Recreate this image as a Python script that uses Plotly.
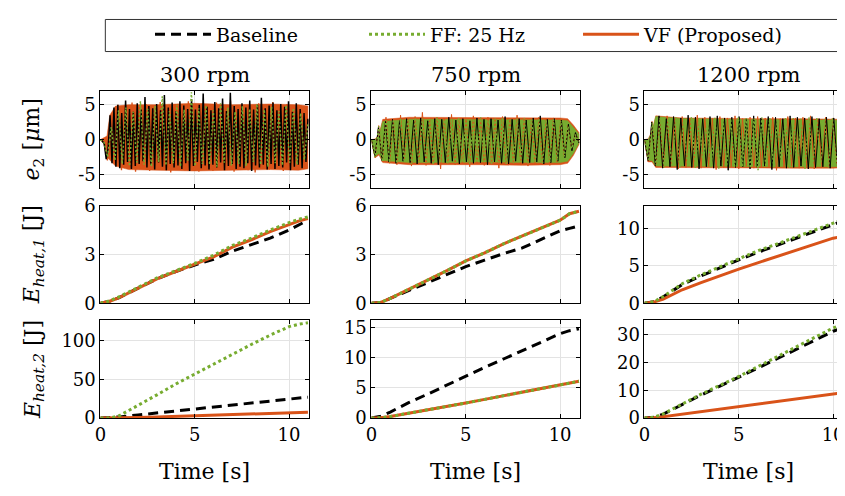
import numpy as np
import plotly.graph_objects as go

# page is shown with the browser's default 8px body margin -> figure sized to fit
OFF = 8
W, H = 845 - OFF, 496 - OFF
FONT = "DejaVu Serif"
BLACK = "#000000"
GREEN = "#77AC30"
ORANGE = "#D95319"

def xp(px):
    return (px - OFF) / W

def yp(py):
    return 1 - (py - OFF) / H

rpm_labels = ["300 rpm", "750 rpm", "1200 rpm"]
series_names = ["Baseline", "FF: 25 Hz", "VF (Proposed)"]

# ---- row 1: e2 [um] (values read peak by peak) ----
e2_base_300 = [0, -0.2, -0.6, -2.8, -1.2, 3.5, -3.4, 4.6, -3.9, 5.0, -4.1, 3.8, -3.6, 5.6, -3.2, 4.4, -4.2, 4.0, -3.8, 5.2, -3.5, 4.3, -3.1, 6.1, -4.0, 4.8, -3.6, 4.5, -4.3, 5.1, -3.3, 4.2, -3.9, 6.4, -4.4, 4.6, -3.5, 5.3, -4.0, 4.1, -3.7, 5.5, -4.2, 4.9, -3.4, 4.4, -4.5, 5.8, -3.8, 4.3, -3.2, 5.0, -4.1, 6.6, -3.7, 4.7, -4.3, 4.2, -3.6, 5.4, -4.0, 4.5, -3.3, 5.9, -4.4, 4.1, -3.8, 6.7, -3.5, 4.8, -4.2, 4.4, -3.9, 5.2, -4.1, 4.6, -3.4, 5.6, -4.5, 4.3, -3.7, 5.0, -4.0, 6.0, -3.6, 4.5, -4.3, 4.9, -3.5, 5.3, -4.2, 4.2, -3.8, 5.1, -4.0, 4.7, -3.3, 5.5, -4.4, 4.0, -3.9, 5.2, -3.6, 4.4, -4.1, 3.8, -3.2, 3.0]
e2_vf_300 = [0, -0.5, -3.0, 2.2, -3.4, 5.0, -4.4, 4.6, -3.9, 5.3, -4.6, 4.2, -3.7, 5.1, -4.5, 4.8, -3.6, 5.4, -4.2, 4.4, -4.7, 5.0, -3.8, 4.9, -4.4, 5.5, -3.9, 4.3, -4.6, 5.2, -4.0, 4.7, -4.5, 5.3, -3.8, 4.6, -4.3, 5.6, -4.6, 4.1, -3.9, 5.0, -4.4, 4.8, -4.7, 5.2, -3.9, 4.5, -4.3, 5.4, -4.0, 4.7, -4.5, 5.1, -3.7, 4.4, -4.2, 4.9, -3.6, 2.8]
e2_ff_300 = [0, -0.4, -2.5, 1.8, -3.0, 4.2, -3.5, 4.6, -3.8, 4.0, -3.3, 5.5, -3.6, 4.4, -3.9, 4.8, -3.2, 6.2, -3.7, 4.1, -3.4, 5.0, -3.9, 4.3, -3.1, 6.8, -3.8, 4.5, -3.5, 4.9, -3.6, 4.2, -3.9, 5.2, -3.3, 4.6, -3.7, 4.0, -3.5, 4.8, -3.8, 4.4, -3.2, 5.1, -3.6, 4.3, -3.9, 4.7, -3.4, 4.1, -3.7, 4.9, -3.3, 4.5, -3.6, 3.8, -2.9, 2.2]

e2_base_750 = [0, -2.4, 1.8, -3.0, 2.6, -3.2, 2.9, -3.4, 2.7, -3.1, 3.0, -3.3, 2.8, -3.5, 3.1, -3.2, 2.7, -3.4, 3.0, -3.6, 2.9, -3.3, 3.2, -3.1, 2.8, -3.5, 3.0, -3.2, 2.7, -3.4, 3.1, -3.3, 2.9, -3.6, 3.0, -3.2, 2.8, -3.4, 3.3, -3.5, 2.9, -3.1, 3.0, -3.4, 2.8, -3.3, 3.1, -3.2, 3.4, -3.5, 2.9, -3.3, 3.0, -3.1, 2.8, -2.6, 2.2, -1.6, 1.0, -0.5]
e2_vf_750 = [0, -2.6, 2.0, -3.2, 3.2, -3.4, 2.8, -3.6, 3.5, -3.0, 2.9, -3.8, 3.3, -3.4, 3.9, -3.7, 2.8, -3.5, 3.2, -4.2, 3.0, -3.4, 3.6, -3.6, 2.9, -3.3, 3.1, -3.9, 3.4, -3.5, 2.8, -3.7, 3.2, -3.4, 3.0, -4.1, 3.3, -3.6, 2.9, -3.5, 3.5, -3.3, 3.1, -3.8, 2.9, -3.6, 3.2, -3.4, 3.0, -3.7, 3.1, -3.2, 2.8, -2.5, 2.0, -1.4, 0.8, -0.4]
e2_ff_750 = [0, -2.5, 1.9, -3.1, 2.8, -3.3, 2.9, -3.4, 3.0, -3.2, 2.8, -3.5, 3.1, -3.3, 3.0, -3.4, 2.9, -3.6, 3.2, -3.3, 2.8, -3.5, 3.0, -3.4, 3.1, -3.2, 2.9, -3.5, 3.0, -3.3, 3.2, -3.4, 2.8, -3.6, 3.0, -3.3, 3.1, -3.5, 2.9, -3.4, 3.0, -3.2, 3.1, -3.5, 2.9, -3.3, 3.0, -3.4, 2.8, -3.2, 2.9, -3.0, 2.7, -2.4, 1.9, -1.3, 0.7, -0.3]

e2_base_1200 = [0, -3.0, 2.5, -3.8, 3.4, -4.1, 3.0, -3.9, 3.3, -4.3, 3.1, -3.8, 3.5, -4.0, 3.2, -4.2, 3.0, -3.9, 3.3, -4.1, 3.4, -3.8, 3.1, -4.4, 3.2, -4.0, 3.3, -3.9, 3.0, -4.2, 3.4, -4.0, 3.1, -3.8, 3.3, -4.3, 3.2, -3.9, 3.0, -4.1, 3.4, -4.0, 3.2, -3.8, 3.1, -4.2, 3.3, -4.0, 3.0, -3.9, 3.2, -4.1, 3.1, -3.7, 2.8, -3.2, 2.4, -1.8]
e2_vf_1200 = [0, -3.2, 2.6, -3.9, 3.2, -4.0, 3.4, -3.8, 3.0, -4.2, 3.3, -4.0, 3.1, -3.9, 3.5, -4.1, 3.2, -3.8, 3.0, -4.3, 3.3, -4.0, 3.1, -3.9, 3.4, -4.2, 3.0, -3.8, 3.2, -4.1, 3.3, -4.0, 3.1, -3.9, 3.2, -4.4, 3.0, -4.0, 3.3, -3.8, 3.1, -4.1, 3.2, -3.9, 3.4, -4.2, 3.0, -4.0, 3.2, -3.9, 3.1, -3.6, 2.7, -3.0, 2.2, -1.6]
e2_ff_1200 = [0, -2.9, 2.4, -3.7, 3.1, -4.0, 3.0, -3.9, 3.2, -4.1, 3.0, -3.8, 3.3, -4.2, 3.1, -3.9, 3.0, -4.0, 3.2, -4.3, 3.1, -3.8, 3.0, -4.0, 3.2, -3.9, 3.1, -4.1, 3.0, -4.4, 3.2, -3.9, 3.1, -4.0, 3.0, -3.8, 3.2, -4.1, 3.1, -3.9, 3.0, -4.2, 3.2, -4.0, 3.1, -3.8, 3.0, -4.0, 3.1, -3.6, 2.8, -3.1, 2.3, -1.7]

# envelopes of the dense e2 bands (upper / lower)
t_env_300 = [0, 0.2, 0.35, 0.5, 0.8, 1.5, 3, 5, 7, 9, 10.5, 11]
env_vf_up_300 = [0, 0.3, 0.5, 3.5, 4.8, 5.0, 5.0, 5.2, 5.0, 5.1, 5.0, 4.8]
env_vf_lo_300 = [0, -0.5, -2.5, -3.0, -3.8, -4.3, -4.4, -4.5, -4.4, -4.3, -4.4, -4.2]

t_env_750 = [0, 0.2, 0.4, 0.6, 2, 4, 6, 8, 10, 10.4, 10.7, 11]
env_ff_up_750 = [0, 0, 0.5, 2.6, 2.9, 2.9, 2.8, 2.8, 2.8, 2.7, 1.8, 0.8]
env_ff_lo_750 = [0, -2.4, -2.0, -3.0, -3.3, -3.3, -3.2, -3.3, -3.3, -3.1, -2.0, -0.5]
env_vf_up_750 = [0, 0.1, 0.7, 2.9, 3.2, 3.2, 3.1, 3.1, 3.1, 3.0, 2.1, 1.0]
env_vf_lo_750 = [0, -2.6, -2.2, -3.3, -3.6, -3.6, -3.6, -3.7, -3.6, -3.4, -2.3, -0.7]

t_env_1200 = [0, 0.2, 0.4, 0.6, 2, 4, 6, 8, 10, 11]
env_ff_up_1200 = [0, 0, 1.0, 3.3, 3.0, 2.9, 2.9, 2.8, 2.8, 2.7]
env_ff_lo_1200 = [0, -3.0, -3.0, -3.8, -3.9, -3.9, -3.9, -3.9, -3.9, -3.8]
env_vf_up_1200 = [0, 0.1, 1.2, 3.4, 3.1, 3.0, 3.0, 3.0, 2.9, 2.9]
env_vf_lo_1200 = [0, -3.2, -3.2, -4.0, -4.1, -4.1, -4.1, -4.1, -4.1, -4.0]

# ---- rows 2/3: energies [J] at sample times ----
t_E = [0, 0.5, 1, 2, 3, 4, 5, 6, 7, 8, 9, 10, 10.5, 11]

E1_base_300 = [0, 0.12, 0.35, 0.95, 1.5, 1.95, 2.35, 2.7, 3.2, 3.6, 4.0, 4.5, 4.8, 5.1]
E1_ff_300 = [0, 0.15, 0.4, 1.0, 1.55, 2.0, 2.45, 2.95, 3.55, 4.0, 4.5, 4.95, 5.15, 5.3]
E1_vf_300 = [0, 0.12, 0.35, 0.95, 1.5, 1.95, 2.4, 2.85, 3.45, 3.9, 4.4, 4.85, 5.05, 5.2]

E1_base_750 = [0, 0.05, 0.3, 0.8, 1.3, 1.8, 2.25, 2.65, 3.05, 3.4, 3.9, 4.45, 4.6, 4.75]
E1_ff_750 = [0, 0.05, 0.3, 0.85, 1.4, 2.0, 2.6, 3.1, 3.65, 4.15, 4.6, 5.1, 5.5, 5.65]
E1_vf_750 = [0, 0.05, 0.3, 0.85, 1.4, 2.0, 2.6, 3.1, 3.65, 4.15, 4.6, 5.1, 5.5, 5.65]

E1_base_1200 = [0, 0.2, 0.85, 2.5, 3.65, 4.75, 5.8, 6.8, 7.7, 8.6, 9.5, 10.5, 11.0, 11.4]
E1_ff_1200 = [0, 0.2, 0.9, 2.6, 3.8, 4.9, 6.0, 7.0, 7.9, 8.8, 9.7, 10.7, 11.2, 11.6]
E1_vf_1200 = [0, 0.15, 0.55, 1.8, 2.75, 3.7, 4.55, 5.4, 6.25, 7.1, 7.9, 8.7, 8.9, 9.0]

E2_base_300 = [0, 0.3, 1.5, 4, 6.5, 9, 11.5, 14, 16.5, 19, 21.5, 24, 25.5, 27]
E2_ff_300 = [0, 0, 3, 16, 30, 44, 57, 70, 83, 95, 107, 118, 121, 123]
E2_vf_300 = [0, 0, 0.2, 0.8, 1.4, 2.1, 2.9, 3.7, 4.5, 5.3, 6.2, 7.0, 7.3, 7.6]

E2_base_750 = [0, 0.3, 1.0, 2.6, 4.0, 5.5, 7.0, 8.4, 9.8, 11.2, 12.6, 14.0, 14.5, 14.8]
E2_ff_750 = [0, 0.05, 0.25, 0.8, 1.3, 1.9, 2.5, 3.1, 3.7, 4.3, 4.9, 5.5, 5.85, 6.1]
E2_vf_750 = [0, 0.05, 0.25, 0.8, 1.3, 1.9, 2.5, 3.1, 3.7, 4.3, 4.9, 5.5, 5.85, 6.1]

E2_base_1200 = [0, 0.3, 1.4, 5.0, 8.3, 11.5, 14.6, 18.0, 21.3, 24.6, 28, 31.3, 32.5, 33.5]
E2_ff_1200 = [0, 0.3, 1.5, 5.2, 8.6, 11.8, 15.0, 18.5, 22, 25.5, 29, 32.5, 33.8, 34.8]
E2_vf_1200 = [0, 0.1, 0.5, 1.4, 2.3, 3.3, 4.2, 5.1, 6.0, 6.9, 7.9, 8.8, 9.1, 9.3]

x_ticks = [0, 5, 10]
y_ticks = [
    [[-5, 0, 5], [-5, 0, 5], [-5, 0, 5]],
    [[0, 3, 6], [0, 3, 6], [0, 5, 10]],
    [[0, 50, 100], [0, 5, 10, 15], [0, 10, 20, 30]],
]
y_ranges = [
    [[-7, 7], [-7, 7], [-7, 7]],
    [[0, 6], [0, 6], [0, 13.05]],
    [[0, 126], [0, 16.2], [0, 35.2]],
]
x_ranges = [[0, 11.05], [0, 11.05], [0, 10.63]]

e2_data = [
    (e2_base_300, e2_ff_300, e2_vf_300),
    (e2_base_750, e2_ff_750, e2_vf_750),
    (e2_base_1200, e2_ff_1200, e2_vf_1200),
]
# (time, [(upper, lower, colour), ...]) drawn back to front
e2_env = [
    (t_env_300, [(env_vf_up_300, env_vf_lo_300, ORANGE)]),
    (t_env_750, [(env_vf_up_750, env_vf_lo_750, ORANGE), (env_ff_up_750, env_ff_lo_750, GREEN)]),
    (t_env_1200, [(env_vf_up_1200, env_vf_lo_1200, ORANGE), (env_ff_up_1200, env_ff_lo_1200, GREEN)]),
]
E1_data = [
    (E1_base_300, E1_ff_300, E1_vf_300),
    (E1_base_750, E1_ff_750, E1_vf_750),
    (E1_base_1200, E1_ff_1200, E1_vf_1200),
]
E2_data = [
    (E2_base_300, E2_ff_300, E2_vf_300),
    (E2_base_750, E2_ff_750, E2_vf_750),
    (E2_base_1200, E2_ff_1200, E2_vf_1200),
]

# ---- layout geometry (page pixels) ----
col_px = [(95, 305), (368, 578), (643, 853)]
row_px = [(83, 185), (203, 305), (323, 425)]

fig = go.Figure()
layout = dict(
    width=W, height=H, margin=dict(l=0, r=0, t=0, b=0),
    paper_bgcolor="white", plot_bgcolor="white",
    font=dict(family=FONT, size=18, color="black"),
)

def fmt(v):
    return ("-" + str(abs(v))) if v < 0 else str(v)

for r in range(3):
    for c in range(3):
        k = r * 3 + c + 1
        xa = "xaxis" if k == 1 else f"xaxis{k}"
        ya = "yaxis" if k == 1 else f"yaxis{k}"
        xref = "x" if k == 1 else f"x{k}"
        yref = "y" if k == 1 else f"y{k}"
        x0, x1 = col_px[c]
        x1 = min(x1, 845)
        y0, y1 = row_px[r]
        xdict = dict(
            domain=[xp(x0), min(1.0, xp(x1))], anchor=yref, range=x_ranges[c],
            tickmode="array", tickvals=x_ticks,
            showticklabels=(r == 2),
            ticks="inside", ticklen=4, tickcolor="black", tickwidth=1,
            showline=True, linecolor="black", linewidth=1, mirror="ticks",
            showgrid=True, gridcolor="#e3e3e3", gridwidth=1, zeroline=False,
            tickfont=dict(size=18, family=FONT),
        )
        if r == 2:
            xdict["ticktext"] = [str(v) for v in x_ticks]
        layout[xa] = xdict
        yt = y_ticks[r][c]
        layout[ya] = dict(
            domain=[yp(y1), yp(y0)], anchor=xref, range=y_ranges[r][c],
            tickvals=yt, ticktext=[fmt(v) for v in yt],
            ticks="inside", ticklen=4, tickcolor="black", tickwidth=1,
            showline=True, linecolor="black", linewidth=1,
            mirror=("ticks" if c < 2 else False),
            showgrid=True, gridcolor="#e3e3e3", gridwidth=1, zeroline=False,
            tickfont=dict(size=18, family=FONT),
        )

        if r == 0:
            t_env, bands = e2_env[c]
            for up, lo, col in bands:
                fig.add_trace(go.Scatter(
                    x=list(t_env) + list(t_env)[::-1], y=list(up) + list(lo)[::-1],
                    mode="lines", fill="toself", fillcolor=col,
                    line=dict(color=col, width=0.5),
                    xaxis=xref, yaxis=yref, showlegend=False, hoverinfo="skip",
                ))
            base, ff, vf = e2_data[c]
            if c == 0:
                specs = [(vf, ORANGE, "solid", 1.3), (base, BLACK, "solid", 1.5), (ff, GREEN, "2px,2px", 1.5)]
            else:
                specs = [(vf, ORANGE, "solid", 1.0), (base, BLACK, "solid", 1.0), (ff, GREEN, "2px,2px", 1.4)]
            for vals, col, dash, wdt in specs:
                fig.add_trace(go.Scatter(
                    x=np.linspace(0, 11, len(vals)), y=vals, mode="lines",
                    line=dict(color=col, width=wdt, dash=dash),
                    xaxis=xref, yaxis=yref, showlegend=False, hoverinfo="skip",
                ))
        else:
            base, ff, vf = (E1_data if r == 1 else E2_data)[c]
            specs = [(base, BLACK, "10px,6px", 3, 0, 1), (vf, ORANGE, "solid", 3, 2, 3), (ff, GREEN, "3px,3px", 3, 1, 2)]
            for vals, col, dash, wdt, si, rank in specs:
                fig.add_trace(go.Scatter(
                    x=t_E, y=vals, mode="lines",
                    line=dict(color=col, width=wdt, dash=dash),
                    xaxis=xref, yaxis=yref, name=series_names[si],
                    legendrank=rank,
                    showlegend=(r == 1 and c == 0), hoverinfo="skip",
                ))

ann = []
for c, lab in enumerate(rpm_labels):
    cx = (col_px[c][0] + col_px[c][1]) / 2
    ann.append(dict(text=lab, x=xp(cx), y=yp(67), xref="paper", yref="paper",
                    xanchor="center", yanchor="middle", showarrow=False,
                    font=dict(size=21, family=FONT)))
    ann.append(dict(text="Time [s]", x=xp(cx), y=yp(481), xref="paper", yref="paper",
                    xanchor="center", yanchor="middle", showarrow=False,
                    font=dict(size=22, family=FONT)))

ylabels = ["<i>e</i><sub>2</sub> [<i>μ</i>m]",
           "<i>E</i><sub><i>heat,1</i></sub> [J]",
           "<i>E</i><sub><i>heat,2</i></sub> [J]"]
for r, lab in enumerate(ylabels):
    cy = (row_px[r][0] + row_px[r][1]) / 2
    ann.append(dict(text=lab, x=xp(28), y=yp(cy), xref="paper", yref="paper",
                    xanchor="center", yanchor="middle", textangle=-90, showarrow=False,
                    font=dict(size=22, family=FONT)))

layout["annotations"] = ann
layout["shapes"] = [dict(type="rect", xref="paper", yref="paper",
                         x0=xp(100), x1=xp(843), y0=yp(42), y1=yp(8.5),
                         line=dict(color="#333333", width=1), fillcolor="rgba(0,0,0,0)")]
layout["legend"] = dict(
    orientation="h", x=xp(145), y=yp(24), xanchor="left", yanchor="middle",
    bgcolor="rgba(0,0,0,0)", borderwidth=0, font=dict(size=19, family=FONT),
    itemwidth=56, entrywidth=143, entrywidthmode="pixels", traceorder="normal",
)
fig.update_layout(**layout)
fig.write_html("out.html")
